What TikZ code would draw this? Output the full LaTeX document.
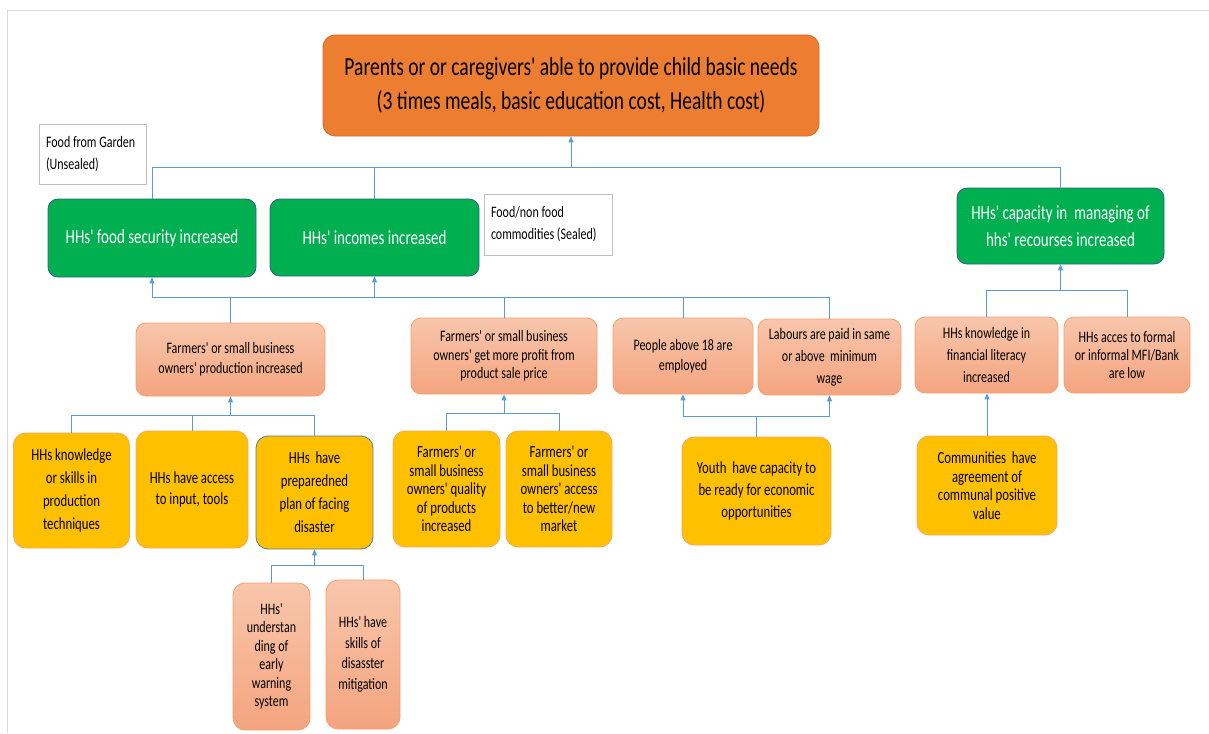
\documentclass[tikz,border=0pt]{standalone}
\usepackage{fontspec}
\setmainfont{Carlito}[FakeStretch=0.75, Ligatures=TeXOff]
\usetikzlibrary{arrows.meta}
\definecolor{topor}{HTML}{ED7D31}
\definecolor{topbd}{HTML}{D4692A}
\definecolor{grn}{HTML}{00B050}
\definecolor{grnbd}{HTML}{2F5F8A}
\definecolor{salT}{HTML}{F8C6AB}
\definecolor{salB}{HTML}{F4A47F}
\definecolor{salbd}{HTML}{F3A06E}
\definecolor{yel}{HTML}{FFC000}
\definecolor{yelbd}{HTML}{F4A86A}
\definecolor{ybd2}{HTML}{5A7A8C}
\definecolor{conc}{HTML}{5B9BD5}
\definecolor{notebd}{HTML}{BFBFBF}
\definecolor{frame}{HTML}{D9D9D9}
\newcommand\tightsp{\spaceskip=0.17em plus 0.05em\relax\hyphenpenalty=10000\relax}
\tikzset{
  boxbase/.style={rectangle, align=center, inner sep=2pt, line width=0.8pt},
  topbox/.style={boxbase, rounded corners=12pt, fill=topor, draw=topbd, font=\fontsize{26}{34}\selectfont},
  greenbox/.style={boxbase, rounded corners=10pt, fill=grn, draw=grnbd, text=white, font=\fontsize{20}{27}\selectfont},
  salbox/.style={boxbase, rounded corners=10pt, top color=salT, bottom color=salB, draw=salbd, font=\fontsize{16}{20}\selectfont},
  yelbox/.style={boxbase, rounded corners=12pt, fill=yel, draw=yelbd, font=\fontsize{17}{21}\selectfont},
  notebox/.style={rectangle, align=left, anchor=center, inner sep=7pt, draw=notebd, fill=white, line width=0.6pt, font=\fontsize{16}{22}\selectfont},
  conn/.style={draw=conc, line width=1pt},
  arr/.style={conn, -{Triangle[length=6pt,width=5pt]}},
}
\begin{document}
\begin{tikzpicture}[x=1pt,y=-1pt]
\useasboundingbox (0,0) rectangle (1209,733);
\draw[frame, line width=1pt] (7,733) -- (7,11) -- (1209,11);
% top
\node[topbox, minimum width=496pt, minimum height=101pt] (top) at (571,85.5) {Parents or or caregivers' able to provide child basic needs\\(3 times meals, basic education cost, Health cost)};
% notes
\node[notebox, minimum width=107pt, minimum height=60pt, text width=93pt] (garden) at (92.5,154) {\tightsp Food from Garden\\(Unsealed)};
\node[notebox, minimum width=128pt, minimum height=61pt, text width=114pt] (sealed) at (548,224.5) {\tightsp Food/non food\\commodities (Sealed)};
% green
\node[greenbox, minimum width=208pt, minimum height=78pt] (g1) at (152,238) {HHs' food security increased};
\node[greenbox, minimum width=209pt, minimum height=77pt] (g2) at (374.5,237.5) {HHs' incomes increased};
\node[greenbox, minimum width=207pt, minimum height=76pt] (g3) at (1060.5,226) {HHs' capacity in~ managing of\\hhs' recourses increased};
% salmon row
\node[salbox, minimum width=189pt, minimum height=73pt] (s1) at (230.5,359.5) {Farmers' or small business\\owners' production increased};
\node[salbox, minimum width=186pt, minimum height=76pt, font=\fontsize{16}{18.5}\selectfont] (s2) at (504,356) {Farmers' or small business\\owners' get more profit from\\product sale price};
\node[salbox, minimum width=140pt, minimum height=76pt] (s3) at (683,356) {People above 18 are\\employed};
\node[salbox, minimum width=143pt, minimum height=76pt, font=\fontsize{16}{22}\selectfont] (s4) at (829.5,357) {Labours are paid in same\\or above~ minimum\\wage};
\node[salbox, minimum width=143pt, minimum height=76pt, font=\fontsize{16}{22}\selectfont] (s5) at (986.5,355) {HHs knowledge in\\financial literacy\\increased};
\node[salbox, minimum width=126pt, minimum height=76pt, font=\fontsize{16}{18}\selectfont] (s6) at (1127,355) {HHs acces to formal\\or informal MFI/Bank\\are low};
% yellow row
\node[yelbox, minimum width=116pt, minimum height=115pt, font=\fontsize{17}{23}\selectfont] (y1) at (71.5,490.5) {HHs knowledge\\or skills in\\production\\techniques};
\node[yelbox, minimum width=112pt, minimum height=117pt] (y2) at (192,489.5) {HHs have access\\to input, tools};
\node[yelbox, minimum width=117pt, minimum height=113pt, draw=ybd2, font=\fontsize{17}{23}\selectfont] (y3) at (314.5,492.5) {HHs~ have\\preparedned\\plan of facing\\disaster};
\node[yelbox, minimum width=107pt, minimum height=116pt, font=\fontsize{17}{18.5}\selectfont] (y4) at (446.5,489) {Farmers' or\\small business\\owners' quality\\of products\\increased};
\node[yelbox, minimum width=106pt, minimum height=116pt, font=\fontsize{17}{18.5}\selectfont] (y5) at (559,489) {Farmers' or\\small business\\owners' access\\to better/new\\market};
\node[yelbox, minimum width=149pt, minimum height=108pt, font=\fontsize{17}{22}\selectfont] (youth) at (756.5,491) {Youth~ have capacity to\\be ready for economic\\opportunities};
\node[yelbox, minimum width=140pt, minimum height=99pt, font=\fontsize{17}{18.5}\selectfont] (comm) at (987,485.5) {Communities~ have\\agreement of\\communal positive\\value};
% bottom row
\node[salbox, minimum width=77pt, minimum height=147pt, rounded corners=12pt, font=\fontsize{16}{18.5}\selectfont] (r1) at (271.5,656.5) {HHs'\\understan\\ding of\\early\\warning\\system};
\node[salbox, minimum width=74pt, minimum height=149pt, rounded corners=12pt, font=\fontsize{16}{20.5}\selectfont] (r2) at (363,654.5) {HHs' have\\skills of\\disasster\\mitigation};
% connectors top
\coordinate (b1) at (571,167);
\draw[arr] (b1) -- (top.south);
\draw[conn] (g1.north) |- (b1);
\draw[conn] (g3.north) |- (b1);
\draw[conn] (g2.north) -- (g2.north |- b1);
% lower bus
\coordinate (b2) at (374.5,297);
\coordinate (b2l) at (152,297);
\draw[arr] (b2) -- (g2.south);
\draw[arr] (b2l) -- (g1.south);
\draw[conn] (b2l) -- (s4.north |- b2) -- (s4.north);
\draw[conn] (s1.north) -- (s1.north |- b2);
\draw[conn] (s2.north) -- (s2.north |- b2);
\draw[conn] (s3.north) -- (s3.north |- b2);
% right bus
\coordinate (b3) at (1060.5,290);
\draw[arr] (b3) -- (g3.south);
\draw[conn] (s5.north) |- (b3);
\draw[conn] (s6.north) |- (b3);
% production children
\coordinate (b4) at (230.5,415);
\draw[arr] (b4) -- (s1.south);
\draw[conn] (y1.north) |- (b4);
\draw[conn] (y3.north) |- (b4);
\draw[conn] (y2.north) -- (y2.north |- b4);
% profit children
\coordinate (b5) at (504,413);
\draw[arr] (b5) -- (s2.south);
\draw[conn] (y4.north) |- (b5);
\draw[conn] (y5.north) |- (b5);
% youth
\coordinate (b6) at (756.5,416);
\draw[conn] (youth.north) -- (b6);
\draw[arr] (b6) -| (s3.south);
\draw[arr] (b6) -| (s4.south);
% communities
\draw[arr] (comm.north) -- (comm.north |- s5.south);
% disaster children
\coordinate (b7) at (314.5,565);
\draw[arr] (b7) -- (y3.south);
\draw[conn] (r1.north) |- (b7);
\draw[conn] (r2.north) |- (b7);
\end{tikzpicture}
\end{document}
